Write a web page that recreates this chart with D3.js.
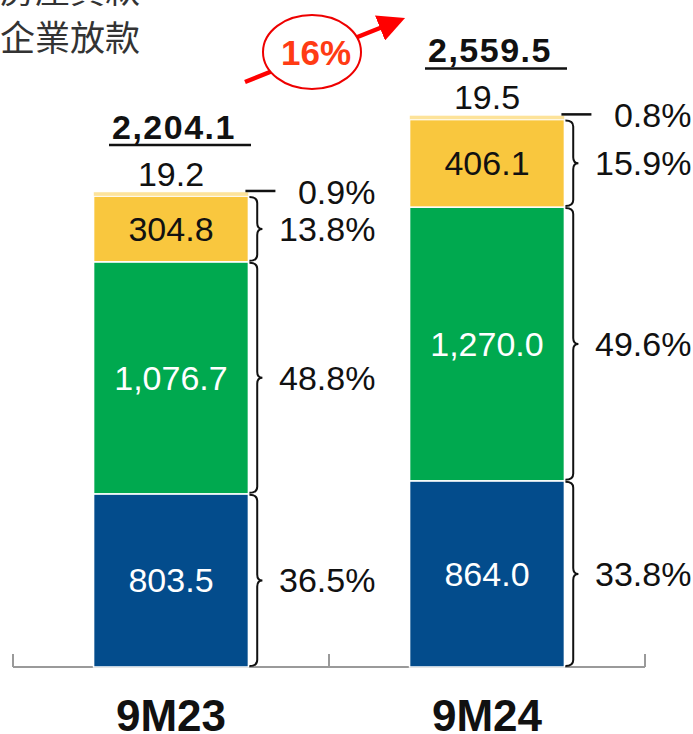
<!DOCTYPE html>
<html>
<head>
<meta charset="utf-8">
<script src="https://cdn.jsdelivr.net/npm/d3@7"></script>
<style>
  body { margin: 0; background: #fff; }
  svg { display: block; }
  text { font-family: "Liberation Sans", Arial, sans-serif; }
</style>
</head>
<body>
<svg id="chart" width="693" height="734"></svg>
<script>
// data
const periods = ["9M23", "9M24"];
const segments = ["blue", "green", "yellow", "other"];
const values9M23 = [803.5, 1076.7, 304.8, 19.2];
const values9M24 = [864.0, 1270.0, 406.1, 19.5];
const shares9M23 = ["36.5%", "48.8%", "13.8%", "0.9%"];
const shares9M24 = ["33.8%", "49.6%", "15.9%", "0.8%"];
const totals = ["2,204.1", "2,559.5"];
const growthLabel = "16%";
const legendLines = ["房屋貸款", "企業放款"];

const colors = ["#034c8c", "#00a94f", "#f9c73e", "#fde39a"];
const labelColors = ["#fff", "#fff", "#111", "#111"];

const svg = d3.select("#chart");
const baseY = 667;

const x = d3.scaleBand()
  .domain(periods)
  .range([13, 645])
  .paddingInner(0.51)
  .paddingOuter(0.255);

const y = d3.scaleLinear()
  .domain([0, 2559.5])
  .range([baseY, 115.4]);

const rows = periods.map((p, i) => {
  const vals = i === 0 ? values9M23 : values9M24;
  const shares = i === 0 ? shares9M23 : shares9M24;
  let acc = 0;
  return vals.map((v, j) => {
    const d = { period: p, seg: j, value: v, share: shares[j], y0: acc, y1: acc + v };
    acc += v;
    return d;
  });
});
const flat = rows.flat();

// legend text (top line is cut by the top edge)
svg.selectAll(".legend")
  .data(legendLines)
  .enter().append("text")
  .attr("x", 0)
  .attr("y", (d, i) => 3 + i * 48)
  .style("font-family", "'Noto Sans CJK TC', sans-serif")
  .style("font-size", "35px")
  .style("fill", "#333")
  .text(d => d);

// axis
const axisG = svg.append("g");
axisG.append("line")
  .attr("x1", 13).attr("x2", 645)
  .attr("y1", baseY).attr("y2", baseY)
  .attr("stroke", "#9a9a9a").attr("stroke-width", 2);
const tickXs = [0, 1, 2].map(k => 13 + k * x.step());
axisG.selectAll(".tick")
  .data(tickXs)
  .enter().append("line")
  .attr("x1", d => d).attr("x2", d => d)
  .attr("y1", baseY - 13).attr("y2", baseY)
  .attr("stroke", "#9a9a9a").attr("stroke-width", 2);

// bars
svg.selectAll(".seg")
  .data(flat)
  .enter().append("rect")
  .attr("x", d => x(d.period))
  .attr("width", x.bandwidth())
  .attr("y", d => y(d.y1))
  .attr("height", d => y(d.y0) - y(d.y1))
  .attr("fill", d => colors[d.seg])
  .attr("stroke", "#fff")
  .attr("stroke-width", d => d.seg === 3 ? 0.5 : 1.5);

// values inside bars
svg.selectAll(".val")
  .data(flat.filter(d => d.seg < 3))
  .enter().append("text")
  .attr("x", d => x(d.period) + x.bandwidth() / 2)
  .attr("y", d => (y(d.y0) + y(d.y1)) / 2 + 12)
  .attr("text-anchor", "middle")
  .style("font-size", "34px")
  .style("fill", d => labelColors[d.seg])
  .text(d => d3.format(",.1f")(d.value));

// small top segment value
svg.selectAll(".small")
  .data(flat.filter(d => d.seg === 3))
  .enter().append("text")
  .attr("x", d => x(d.period) + x.bandwidth() / 2)
  .attr("y", d => y(d.y1) - 6)
  .attr("text-anchor", "middle")
  .style("font-size", "34px")
  .style("fill", "#111")
  .text(d => d3.format(",.1f")(d.value));

// totals, bold and underlined
const totalG = svg.selectAll(".total")
  .data(periods)
  .enter().append("g");
totalG.append("text")
  .attr("x", d => x(d) + x.bandwidth() / 2 + 3)
  .attr("y", (d, i) => y(d3.sum(i === 0 ? values9M23 : values9M24)) - 53)
  .attr("text-anchor", "middle")
  .style("font-size", "34px")
  .style("font-weight", "bold")
  .style("letter-spacing", "1.5px")
  .style("fill", "#111")
  .text((d, i) => totals[i]);
totalG.append("line")
  .attr("x1", d => x(d) + x.bandwidth() / 2 - 62)
  .attr("x2", d => x(d) + x.bandwidth() / 2 + 80)
  .attr("y1", (d, i) => y(d3.sum(i === 0 ? values9M23 : values9M24)) - 47)
  .attr("y2", (d, i) => y(d3.sum(i === 0 ? values9M23 : values9M24)) - 47)
  .attr("stroke", "#111").attr("stroke-width", 2.5);

// curly braces
function brace(xr, top, bot, w) {
  const mid = (top + bot) / 2;
  const r = Math.min(6, (bot - top) / 4);
  return `M${xr},${top} Q${xr + w * 0.6},${top} ${xr + w * 0.6},${top + r}` +
    ` L${xr + w * 0.6},${mid - r} Q${xr + w * 0.6},${mid} ${xr + w},${mid}` +
    ` Q${xr + w * 0.6},${mid} ${xr + w * 0.6},${mid + r}` +
    ` L${xr + w * 0.6},${bot - r} Q${xr + w * 0.6},${bot} ${xr},${bot}`;
}

svg.selectAll(".brace")
  .data(flat.filter(d => d.seg < 3))
  .enter().append("path")
  .attr("d", d => brace(x(d.period) + x.bandwidth() + 1, y(d.y1) + 1, y(d.y0) - 1, 13))
  .attr("fill", "none")
  .attr("stroke", "#111")
  .attr("stroke-width", 2);

// short tick line for the small segment
svg.selectAll(".smallLine")
  .data(flat.filter(d => d.seg === 3))
  .enter().append("line")
  .attr("x1", d => x(d.period) + x.bandwidth() - 3)
  .attr("x2", d => x(d.period) + x.bandwidth() + 27)
  .attr("y1", d => y(d.y1) - 1)
  .attr("y2", d => y(d.y1) - 1)
  .attr("stroke", "#111").attr("stroke-width", 2.5);

// share labels, right aligned
svg.selectAll(".share")
  .data(flat)
  .enter().append("text")
  .attr("x", d => x(d.period) + x.bandwidth() + 127)
  .attr("y", d => d.seg === 3 ? y(d.y1) + 12 : (y(d.y0) + y(d.y1)) / 2 + 12)
  .attr("text-anchor", "end")
  .style("font-size", "34px")
  .style("fill", "#111")
  .text(d => d.share);

// category labels
svg.selectAll(".cat")
  .data(periods)
  .enter().append("text")
  .attr("x", d => x(d) + x.bandwidth() / 2)
  .attr("y", 731)
  .attr("text-anchor", "middle")
  .style("font-size", "44px")
  .style("font-weight", "bold")
  .style("fill", "#111")
  .text(d => d);

// growth arrow with circled label
svg.append("defs").append("marker")
  .attr("id", "head")
  .attr("viewBox", "0 0 10 10")
  .attr("refX", 2).attr("refY", 5)
  .attr("markerWidth", 6).attr("markerHeight", 6)
  .attr("markerUnits", "strokeWidth")
  .attr("orient", "auto")
  .append("path")
  .attr("d", "M0,0 L10,5 L0,10 Z")
  .attr("fill", "#f00");

svg.append("line")
  .attr("x1", 245).attr("y1", 82)
  .attr("x2", 385).attr("y2", 26)
  .attr("stroke", "#f00").attr("stroke-width", 4.5)
  .attr("marker-end", "url(#head)");

svg.append("ellipse")
  .attr("cx", 312).attr("cy", 52)
  .attr("rx", 49).attr("ry", 37)
  .attr("fill", "#fff")
  .attr("stroke", "#e00").attr("stroke-width", 2);

svg.append("text")
  .attr("x", 316).attr("y", 65)
  .attr("text-anchor", "middle")
  .style("font-size", "35px")
  .style("font-weight", "bold")
  .style("fill", "#ff3b14")
  .text(growthLabel);
</script>
</body>
</html>
